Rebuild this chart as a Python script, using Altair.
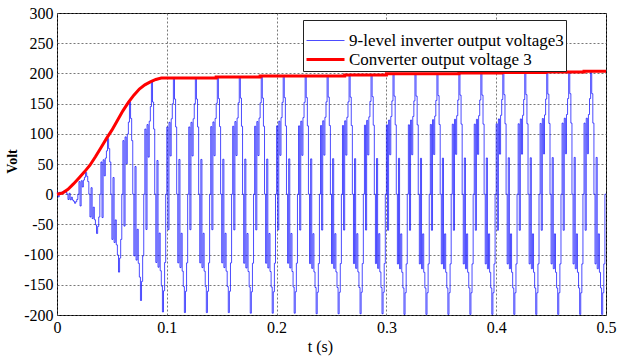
import altair as alt
import pandas as pd

# ---- data ----
SERIES = ["9-level inverter output voltage3", "Converter output voltage 3"]

# one 20 ms cycle of the inverter output, sampled every 1 ms (fraction of the cycle peak)
CYCLE_PATTERN = [0.58, -0.30, 0.62, 0.33, 0.65, 0.78, 1.00, 0.82, 0.58, 0.00,
                 -0.58, 0.30, -0.62, -0.33, -0.65, -0.78, -1.00, -0.82, -0.58, 0.00]
# positive / negative peak of each of the 25 cycles (V)
POS_PEAK = [5, 36, 92, 153, 186, 192, 192, 193, 194, 194, 195, 195, 196, 196, 197,
            198, 198, 199, 200, 200, 201, 201, 202, 203, 203]
NEG_PEAK = [15, 65, 129, 176, 195, 196, 196, 196, 197, 197, 197, 198, 198, 198, 198,
            199, 199, 199, 199, 199, 199, 199, 199, 199, 199]
CYCLE_S = 0.02
STEP_S = 0.001

RED_T = [0, 0.005, 0.01, 0.015, 0.02, 0.025, 0.03, 0.035, 0.04, 0.045, 0.05, 0.055,
         0.06, 0.065, 0.07, 0.075, 0.08, 0.085, 0.09, 0.095, 0.145, 0.145, 0.185,
         0.185, 0.262, 0.262, 0.300, 0.300, 0.366, 0.366, 0.405, 0.405, 0.445,
         0.445, 0.480, 0.480, 0.500]
RED_V = [0, 2, 8, 17, 27, 37, 48, 62, 77, 92, 106, 122, 138, 152, 164, 174, 181,
         186, 190, 192.5, 192.5, 194, 194, 195.5, 195.5, 197.5, 197.5, 199.5, 199.5,
         200.5, 200.5, 201.5, 201.5, 202.5, 202.5, 203.5, 203.5]

X_TICKS = [0, 0.1, 0.2, 0.3, 0.4, 0.5]
Y_TICKS = [-200, -150, -100, -50, 0, 50, 100, 150, 200, 250, 300]

# ---- build tables ----
rows = []
for k in range(len(POS_PEAK)):
    for i, p in enumerate(CYCLE_PATTERN):
        t = round(k * CYCLE_S + i * STEP_S, 4)
        v = p * POS_PEAK[k] if p > 0 else p * NEG_PEAK[k]
        rows.append({"t": t, "v": v, "series": SERIES[0]})
rows.append({"t": 0.5, "v": rows[-1]["v"], "series": SERIES[0]})
blue_df = pd.DataFrame(rows)
red_df = pd.DataFrame({"t": RED_T, "v": RED_V, "series": SERIES[1]})

serif = "Liberation Serif"
color_scale = alt.Scale(domain=SERIES, range=["#1010ff", "#ff0000"])
width_scale = alt.Scale(domain=SERIES, range=[0.75, 3])
legend = alt.Legend(
    title=" ", titleFontSize=9, titlePadding=0,
    orient="none", legendX=246, legendY=7,
    symbolType="stroke", symbolSize=1444, clipHeight=19, rowPadding=0,
    labelFont=serif, labelFontSize=17, labelColor="black", labelOffset=3,
    labelLimit=400, padding=2, strokeColor="#222", fillColor="white",
)

x_enc = alt.X("t:Q", scale=alt.Scale(domain=[0, 0.5], nice=False),
              axis=alt.Axis(values=X_TICKS, title="t (s)", labelExpr="'' + datum.value",
                            titleX=263, titleY=31, titleBaseline="middle",
                            titleFontWeight="normal", titleFontSize=16))
y_enc = alt.Y("v:Q", scale=alt.Scale(domain=[-200, 300], nice=False),
              axis=alt.Axis(values=Y_TICKS, title="Volt", labelExpr="'' + datum.value",
                            titleX=-45, titleY=148, titleAngle=270, titleBaseline="middle",
                            titleFontWeight="bold", titleFontSize=14))

blue = alt.Chart(blue_df).mark_line(interpolate="step-after").encode(
    x=x_enc, y=y_enc,
    color=alt.Color("series:N", scale=color_scale, legend=legend),
    strokeWidth=alt.StrokeWidth("series:N", scale=width_scale, legend=legend),
)
red = alt.Chart(red_df).mark_line().encode(
    x=x_enc, y=y_enc,
    color=alt.Color("series:N", scale=color_scale, legend=legend),
    strokeWidth=alt.StrokeWidth("series:N", scale=width_scale, legend=legend),
)

chart = alt.layer(blue, red).properties(
    width=549, height=302,
    padding={"left": 57, "top": 13, "right": 13, "bottom": 41},
    autosize=alt.AutoSizeParams(type="none"),
    background="white",
).configure_view(
    stroke="black", strokeWidth=1
).configure_axis(
    labelFont=serif, labelFontSize=16, labelColor="black", labelFlush=False,
    titleFont=serif, titleColor="black",
    ticks=False, domain=False, labelPadding=4,
    grid=True, gridColor="#555", gridDash=[2, 2], gridWidth=0.8, gridOpacity=1,
)

chart.save("out.html", embed_options={"renderer": "svg", "actions": False})
